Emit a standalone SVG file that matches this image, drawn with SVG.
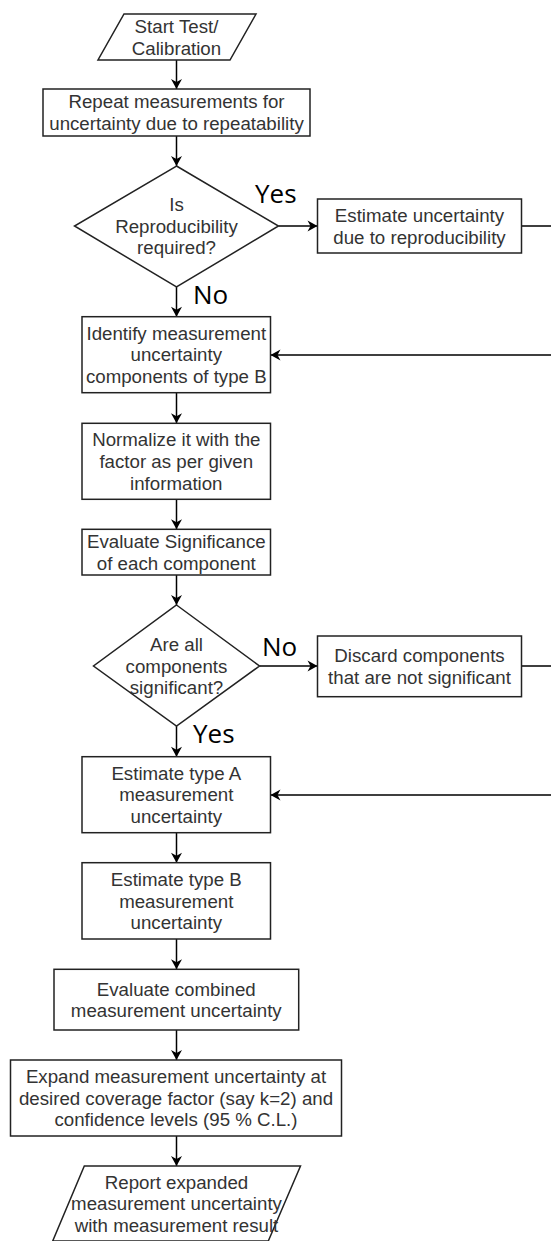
<svg xmlns="http://www.w3.org/2000/svg" width="551" height="1241" viewBox="0 0 551 1241">
<style>
.s{fill:#fff;stroke:#222;stroke-width:1.5}
.t{font-family:"Liberation Sans",Arial,sans-serif;font-size:18.7px;fill:#333;text-anchor:middle}
.l{font-family:"Open Sans","Noto Sans",sans-serif;font-size:26px;fill:#000}
.c{fill:none;stroke:#000;stroke-width:1.5}
</style>
<defs>
<marker id="a" markerUnits="userSpaceOnUse" markerWidth="12" markerHeight="12" viewBox="0 0 12 12" refX="11" refY="6" orient="auto">
<path d="M1,0.5 L11,6 L1,11.5 L4,6 Z" fill="#000"/>
</marker>
</defs>
<rect width="551" height="1241" fill="#fff"/>
<g id="connectors">
<path class="c" marker-end="url(#a)" d="M176.5,60 V89"/>
<path class="c" marker-end="url(#a)" d="M176.5,136 V166"/>
<path class="c" marker-end="url(#a)" d="M278.5,226 H317.5"/>
<path class="c" marker-end="url(#a)" d="M521.5,226 H565 V355 H270.5"/>
<path class="c" marker-end="url(#a)" d="M176.5,287 V316.7"/>
<path class="c" marker-end="url(#a)" d="M176.5,392.7 V423.3"/>
<path class="c" marker-end="url(#a)" d="M176.5,499.3 V529.3"/>
<path class="c" marker-end="url(#a)" d="M176.5,575 V605"/>
<path class="c" marker-end="url(#a)" d="M259.5,666 H317.5"/>
<path class="c" marker-end="url(#a)" d="M521.5,666 H565 V795 H270.5"/>
<path class="c" marker-end="url(#a)" d="M176.5,726 V756.7"/>
<path class="c" marker-end="url(#a)" d="M176.5,832.7 V862.7"/>
<path class="c" marker-end="url(#a)" d="M176.5,939 V969.3"/>
<path class="c" marker-end="url(#a)" d="M176.5,1030 V1060"/>
<path class="c" marker-end="url(#a)" d="M176.5,1136 V1166"/>
<text class="l" x="255" y="203">Yes</text>
<text class="l" x="193" y="304">No</text>
<text class="l" x="262" y="656">No</text>
<text class="l" x="193" y="743">Yes</text>
</g>
<g id="start">
<polygon class="s" points="124,14 256,14 230,60 98,60"/>
<text class="t"><tspan x="176.5" y="32.9">Start Test/</tspan><tspan x="176.5" y="54.5">Calibration</tspan></text>
</g>
<g id="repeat">
<rect class="s" x="43" y="89" width="267" height="47"/>
<text class="t"><tspan x="176.5" y="108.4">Repeat measurements for</tspan><tspan x="176.5" y="130">uncertainty due to repeatability</tspan></text>
</g>
<g id="dec1">
<polygon class="s" points="176.5,166 278.5,226 176.5,287 74.5,226"/>
<text class="t"><tspan x="176.5" y="211.1">Is</tspan><tspan x="176.5" y="232.7">Reproducibility</tspan><tspan x="176.5" y="254.3">required?</tspan></text>
</g>
<g id="reprod">
<rect class="s" x="317.5" y="199" width="204" height="54"/>
<text class="t"><tspan x="419.5" y="221.9">Estimate uncertainty</tspan><tspan x="419.5" y="243.5">due to reproducibility</tspan></text>
</g>
<g id="identify">
<rect class="s" x="82" y="316.7" width="188.5" height="76"/>
<text class="t"><tspan x="176.3" y="339.8">Identify measurement</tspan><tspan x="176.3" y="361.4">uncertainty</tspan><tspan x="176.3" y="383">components of type B</tspan></text>
</g>
<g id="normalize">
<rect class="s" x="82" y="423.3" width="188.5" height="76"/>
<text class="t"><tspan x="176.3" y="446.4">Normalize it with the</tspan><tspan x="176.3" y="468">factor as per given</tspan><tspan x="176.3" y="489.6">information</tspan></text>
</g>
<g id="significance">
<rect class="s" x="82" y="529.3" width="188.5" height="45.7"/>
<text class="t"><tspan x="176.3" y="548.1">Evaluate Significance</tspan><tspan x="176.3" y="569.7">of each component</tspan></text>
</g>
<g id="dec2">
<polygon class="s" points="176.5,605 259.5,666 176.5,726 93.5,666"/>
<text class="t"><tspan x="176.5" y="651.1">Are all</tspan><tspan x="176.5" y="672.7">components</tspan><tspan x="176.5" y="694.3">significant?</tspan></text>
</g>
<g id="discard">
<rect class="s" x="317.5" y="636" width="204" height="60.7"/>
<text class="t"><tspan x="419.5" y="662.3">Discard components</tspan><tspan x="419.5" y="683.9">that are not significant</tspan></text>
</g>
<g id="typeA">
<rect class="s" x="82" y="756.7" width="188.5" height="76"/>
<text class="t"><tspan x="176.3" y="779.8">Estimate type A</tspan><tspan x="176.3" y="801.4">measurement</tspan><tspan x="176.3" y="823">uncertainty</tspan></text>
</g>
<g id="typeB">
<rect class="s" x="82" y="862.7" width="188.5" height="76.3"/>
<text class="t"><tspan x="176.3" y="886">Estimate type B</tspan><tspan x="176.3" y="907.6">measurement</tspan><tspan x="176.3" y="929.2">uncertainty</tspan></text>
</g>
<g id="combined">
<rect class="s" x="54" y="969.3" width="244.7" height="60.7"/>
<text class="t"><tspan x="176.3" y="995.6">Evaluate combined</tspan><tspan x="176.3" y="1017.2">measurement uncertainty</tspan></text>
</g>
<g id="expand">
<rect class="s" x="10.5" y="1060" width="331" height="76"/>
<text class="t"><tspan x="176" y="1083.1">Expand measurement uncertainty at</tspan><tspan x="176" y="1104.7">desired coverage factor (say k=2) and</tspan><tspan x="176" y="1126.3">confidence levels (95 % C.L.)</tspan></text>
</g>
<g id="report">
<polygon class="s" points="84.3,1166 300.5,1166 268.3,1241 52.7,1241"/>
<text class="t"><tspan x="176.5" y="1188.6">Report expanded</tspan><tspan x="176.5" y="1210.2">measurement uncertainty</tspan><tspan x="176.5" y="1231.8">with measurement result</tspan></text>
</g>
</svg>
